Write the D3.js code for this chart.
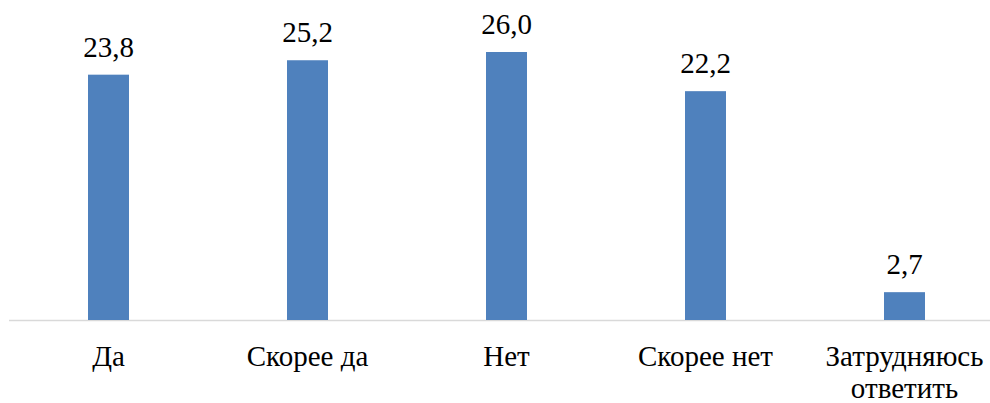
<!DOCTYPE html>
<html><head><meta charset="utf-8">
<script src="https://cdn.jsdelivr.net/npm/d3@7"></script>
</head><body style="margin:0;background:#fff">
<svg id="c" width="990" height="403" style="display:block"></svg>
<script>
const categories = ["Да", "Скорее да", "Нет", "Скорее нет", "Затрудняюсь ответить"];
const values = [23.8, 25.2, 26.0, 22.2, 2.7];
const valueLabels = ["23,8", "25,2", "26,0", "22,2", "2,7"];

const svg = d3.select("#c");
const baseY = 320;
const FONT = '"Liberation Serif", "Times New Roman", Tinos, serif';
const x = d3.scaleBand().domain(categories).range([9, 1004]).paddingInner(0.794).paddingOuter(0.397);
const y = d3.scaleLinear().domain([0, 26]).range([baseY, 52]);

svg.append("line").attr("x1", 9).attr("x2", 990).attr("y1", baseY + 0.5).attr("y2", baseY + 0.5)
  .attr("stroke", "#d9d9d9").attr("stroke-width", 1.5);

svg.selectAll("rect.bar").data(values).join("rect").attr("class", "bar")
  .attr("x", (d, i) => x(categories[i])).attr("width", x.bandwidth())
  .attr("y", d => y(d)).attr("height", d => baseY - y(d)).attr("fill", "#4F81BD");

svg.selectAll("text.val").data(values).join("text").attr("class", "val")
  .attr("x", (d, i) => x(categories[i]) + x.bandwidth() / 2).attr("y", d => y(d) - 18)
  .style("font-family", FONT).style("font-size", "29px").attr("fill", "#000")
  .attr("text-anchor", "middle")
  .text((d, i) => valueLabels[i]);

const xAxis = svg.append("g");
categories.forEach(c => {
  const cx = x(c) + x.bandwidth() / 2;
  const words = c === "Затрудняюсь ответить" ? ["Затрудняюсь", "ответить"] : [c];
  const t = xAxis.append("text").style("font-family", FONT).style("font-size", "29px")
    .attr("fill", "#000").attr("text-anchor", "middle");
  words.forEach((w, i) => t.append("tspan").attr("x", cx).attr("y", 366 + i * 32).text(w));
});
</script>
</body></html>
